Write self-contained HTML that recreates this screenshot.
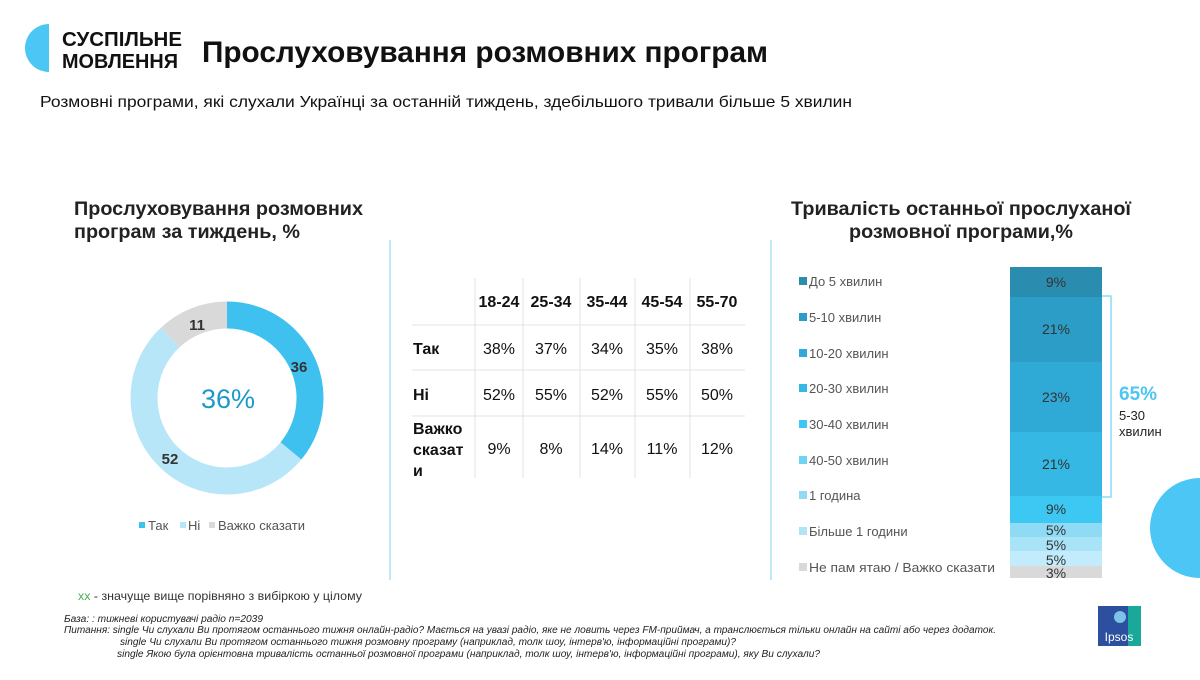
<!DOCTYPE html>
<html><head><meta charset="utf-8"><style>
body{margin:0;background:#fff;}
svg text{font-family:"Liberation Sans",sans-serif;}
</style></head><body>
<svg width="1200" height="675" viewBox="0 0 1200 675" xmlns="http://www.w3.org/2000/svg">
<rect width="1200" height="675" fill="#fff"/>
<!-- logo -->
<path d="M49 24 A24 24 0 0 0 49 72 Z" fill="#4cc6f4"/>
<text x="62" y="46" font-size="20" font-weight="bold" fill="#111" textLength="120" lengthAdjust="spacingAndGlyphs">СУСПІЛЬНЕ</text>
<text x="62" y="68" font-size="20" font-weight="bold" fill="#111" textLength="116" lengthAdjust="spacingAndGlyphs">МОВЛЕННЯ</text>
<text x="202" y="62" font-size="30" font-weight="bold" fill="#111" textLength="566" lengthAdjust="spacingAndGlyphs">Прослуховування розмовних програм</text>
<text x="40" y="107" font-size="16" fill="#111" textLength="812" lengthAdjust="spacingAndGlyphs">Розмовні програми, які слухали Українці за останній тиждень, здебільшого тривали більше 5 хвилин</text>
<!-- left title -->
<text x="74" y="215" font-size="19" font-weight="bold" fill="#222" textLength="289" lengthAdjust="spacingAndGlyphs">Прослуховування розмовних</text>
<text x="74" y="238" font-size="19" font-weight="bold" fill="#222" textLength="226" lengthAdjust="spacingAndGlyphs">програм за тиждень, %</text>
<!-- donut -->
<g transform="rotate(-90 227 398)">
<circle cx="227" cy="398" r="83" fill="none" stroke="#3fc1f0" stroke-width="27" stroke-dasharray="187.7 333.8"/>
<circle cx="227" cy="398" r="83" fill="none" stroke="#b7e6f8" stroke-width="27" stroke-dasharray="0 187.7 271.2 62.6"/>
<circle cx="227" cy="398" r="83" fill="none" stroke="#d9d9d9" stroke-width="27" stroke-dasharray="0 458.9 62.6 0"/>
</g>
<text x="228" y="408" font-size="27" text-anchor="middle" fill="#1b9ac8">36%</text>
<text x="299" y="372" font-size="15" font-weight="bold" text-anchor="middle" fill="#333">36</text>
<text x="170" y="464" font-size="15" font-weight="bold" text-anchor="middle" fill="#333">52</text>
<text x="197" y="330" font-size="15" font-weight="bold" text-anchor="middle" fill="#333">11</text>
<rect x="139" y="522" width="6" height="6" fill="#3fc1f0"/>
<rect x="180" y="522" width="6" height="6" fill="#b7e6f8"/>
<rect x="209" y="522" width="6" height="6" fill="#d9d9d9"/>
<g font-size="13" fill="#555"><text x="148" y="530">Так</text><text x="188" y="530">Ні</text><text x="218" y="530">Важко сказати</text></g>
<!-- dividers -->
<line x1="390" y1="240" x2="390" y2="580" stroke="#bfe9f9" stroke-width="2"/>
<line x1="771" y1="240" x2="771" y2="580" stroke="#bfe9f9" stroke-width="2"/>
<!-- table -->
<g stroke="#e3e3e3" stroke-width="1">
<line x1="412" y1="325" x2="745" y2="325"/><line x1="412" y1="370" x2="745" y2="370"/><line x1="412" y1="416" x2="745" y2="416"/>
<line x1="475" y1="278" x2="475" y2="478"/><line x1="523" y1="278" x2="523" y2="478"/><line x1="580" y1="278" x2="580" y2="478"/><line x1="635" y1="278" x2="635" y2="478"/><line x1="690" y1="278" x2="690" y2="478"/>
</g>
<g font-size="16" fill="#111" text-anchor="middle">
<g font-weight="bold"><text x="499" y="307">18-24</text><text x="551" y="307">25-34</text><text x="607" y="307">35-44</text><text x="662" y="307">45-54</text><text x="717" y="307">55-70</text></g>
<text x="499" y="354">38%</text><text x="551" y="354">37%</text><text x="607" y="354">34%</text><text x="662" y="354">35%</text><text x="717" y="354">38%</text>
<text x="499" y="400">52%</text><text x="551" y="400">55%</text><text x="607" y="400">52%</text><text x="662" y="400">55%</text><text x="717" y="400">50%</text>
<text x="499" y="454">9%</text><text x="551" y="454">8%</text><text x="607" y="454">14%</text><text x="662" y="454">11%</text><text x="717" y="454">12%</text>
</g>
<g font-size="16" font-weight="bold" fill="#111">
<text x="413" y="354">Так</text><text x="413" y="400">Ні</text>
<text x="413" y="434">Важко</text><text x="413" y="455">сказат</text><text x="413" y="476">и</text>
</g>
<!-- right title -->
<text x="961" y="215" font-size="19" font-weight="bold" fill="#222" text-anchor="middle" textLength="340" lengthAdjust="spacingAndGlyphs">Тривалість останньої прослуханої</text>
<text x="961" y="238" font-size="19" font-weight="bold" fill="#222" text-anchor="middle" textLength="224" lengthAdjust="spacingAndGlyphs">розмовної програми,%</text>
<!-- legend -->
<g font-size="13" fill="#555">
<rect x="799" y="277" width="8" height="8" fill="#2a8db0"/><text x="809" y="286">До 5 хвилин</text>
<rect x="799" y="313" width="8" height="8" fill="#2b9dc6"/><text x="809" y="322">5-10 хвилин</text>
<rect x="799" y="349" width="8" height="8" fill="#2fa9d6"/><text x="809" y="358">10-20 хвилин</text>
<rect x="799" y="384" width="8" height="8" fill="#35b8e3"/><text x="809" y="393">20-30 хвилин</text>
<rect x="799" y="420" width="8" height="8" fill="#3cc8f2"/><text x="809" y="429">30-40 хвилин</text>
<rect x="799" y="456" width="8" height="8" fill="#6fd3f5"/><text x="809" y="465">40-50 хвилин</text>
<rect x="799" y="491" width="8" height="8" fill="#8fdaf5"/><text x="809" y="500">1 година</text>
<rect x="799" y="527" width="8" height="8" fill="#b0e5f8"/><text x="809" y="536">Більше 1 години</text>
<rect x="799" y="563" width="8" height="8" fill="#d9d9d9"/><text x="809" y="572" textLength="186" lengthAdjust="spacingAndGlyphs">Не пам ятаю / Важко сказати</text>
</g>
<!-- stacked bar -->
<rect x="1010" y="267" width="92" height="30" fill="#2a8db0"/>
<rect x="1010" y="297" width="92" height="65" fill="#2b9dc6"/>
<rect x="1010" y="362" width="92" height="70" fill="#2fa9d6"/>
<rect x="1010" y="432" width="92" height="64" fill="#35b8e3"/>
<rect x="1010" y="496" width="92" height="27" fill="#3cc8f2"/>
<rect x="1010" y="523" width="92" height="14" fill="#8fdaf5"/>
<rect x="1010" y="537" width="92" height="14" fill="#a9e3f8"/>
<rect x="1010" y="551" width="92" height="15" fill="#c2ecfb"/>
<rect x="1010" y="566" width="92" height="12" fill="#d9d9d9"/>
<g font-size="14" fill="#333" text-anchor="middle">
<text x="1056" y="287">9%</text><text x="1056" y="334">21%</text><text x="1056" y="402">23%</text><text x="1056" y="469">21%</text>
<text x="1056" y="514">9%</text><text x="1056" y="535">5%</text><text x="1056" y="550">5%</text><text x="1056" y="565">5%</text><text x="1056" y="578">3%</text>
</g>
<path d="M1102 296 H1111 V497 H1102" fill="none" stroke="#6fd3f5" stroke-width="1.2"/>
<text x="1119" y="400" font-size="19" font-weight="bold" fill="#4cc6f4">65%</text>
<text x="1119" y="420" font-size="13" fill="#222">5-30</text>
<text x="1119" y="436" font-size="13" fill="#222">хвилин</text>
<circle cx="1200" cy="528" r="50" fill="#4cc6f4"/>
<!-- footer -->
<text x="78" y="600" font-size="12" fill="#333" textLength="284" lengthAdjust="spacingAndGlyphs"><tspan fill="#4caf50">xx</tspan> - значуще вище порівняно з вибіркою у цілому</text>
<g font-size="10" font-style="italic" fill="#222">
<text x="64" y="622" textLength="199" lengthAdjust="spacingAndGlyphs">База: : тижневі користувачі радіо n=2039</text>
<text x="64" y="633" textLength="932" lengthAdjust="spacingAndGlyphs">Питання: single Чи слухали Ви протягом останнього тижня онлайн-радіо? Мається на увазі радіо, яке не ловить через FM-приймач, а транслюється тільки онлайн на сайті або через додаток.</text>
<text x="120" y="645" textLength="616" lengthAdjust="spacingAndGlyphs">single Чи слухали Ви протягом останнього тижня розмовну програму (наприклад, толк шоу, інтерв'ю, інформаційні програми)?</text>
<text x="117" y="657" textLength="703" lengthAdjust="spacingAndGlyphs">single Якою була орієнтовна тривалість останньої розмовної програми (наприклад, толк шоу, інтерв'ю, інформаційні програми), яку Ви слухали?</text>
</g>
<rect x="1098" y="606" width="43" height="40" fill="#2c4fa0"/>
<path d="M1128 606 H1141 V646 H1128 Z" fill="#1aa89a"/>
<circle cx="1120" cy="617" r="6" fill="#7dc3e8"/>
<text x="1119" y="641" font-size="12" fill="#fff" text-anchor="middle">Ipsos</text>
</svg>
</body></html>
